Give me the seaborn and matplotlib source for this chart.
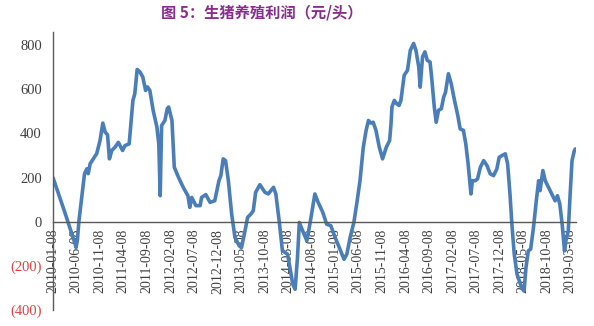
import numpy as np
import pandas as pd
import matplotlib
matplotlib.use("Agg")
import matplotlib.pyplot as plt
import seaborn as sns

# ---- data ----
# time of each observation, in months after 2010-01-08
months_since_start = [
    0, 2.4, 4.7, 4.9, 5.2, 5.5, 6.7, 7.2, 7.5, 7.9, 8.6, 9.3, 10.0, 10.6, 11.1, 11.6,
    12.0, 12.5, 13.2, 13.9, 14.8, 15.3, 16.2, 17.0, 17.4, 17.9, 18.5, 19.1, 19.4, 19.7,
    20.1, 20.6, 21.3, 22.1, 22.5, 22.8, 23.1, 23.8, 24.3, 24.6, 25.3, 25.8, 26.7, 27.7,
    28.7, 29.1, 29.5, 30.4, 31.3, 31.6, 32.5, 33.4, 34.4, 35.3, 35.7, 36.2, 36.7, 37.3,
    38.0, 38.7, 39.6, 40.1, 40.7, 41.4, 42.1, 42.6, 43.1, 44.0, 45.1, 45.8, 46.9, 47.4,
    48.1, 48.8, 49.9, 50.4, 51.0, 51.5, 52.0, 52.4, 53.1, 54.0, 54.7, 55.7, 56.4, 57.4,
    58.2, 59.1, 60.0, 60.9, 61.9, 62.5, 63.2, 64.0, 64.7, 65.3, 66.0, 66.6, 67.1, 67.6,
    68.1, 68.7, 69.4, 70.1, 70.9, 71.6, 71.9, 72.1, 72.6, 73.1, 73.6, 74.0, 74.7, 75.4,
    76.0, 76.7, 77.2, 77.8, 78.1, 78.6, 79.1, 79.6, 80.2, 80.6, 81.1, 81.5, 82.0, 82.6,
    83.1, 83.5, 84.1, 84.7, 85.4, 86.1, 86.6, 87.3, 87.8, 88.3, 88.9, 89.2, 89.8, 90.3,
    90.9, 91.6, 92.3, 93.0, 93.7, 94.4, 94.9, 95.5, 96.2, 96.7, 97.2, 97.6, 98.1, 98.7,
    99.2, 99.7, 100.2, 100.6, 101.1, 101.6, 102.2, 102.8, 103.3, 103.6, 104.2, 104.7,
    105.4, 106.1, 106.8, 107.3, 107.8, 108.3, 108.8, 109.1, 109.6, 110.0, 110.4, 110.9,
    111.1,
]
profit = [
    200, 50, -100, -117, -80, 0, 217, 240, 218, 263, 286, 309, 368, 447, 406, 394,
    285, 323, 338, 360, 323, 345, 353, 550, 580, 690, 679, 656, 626, 595,
    611, 595, 505, 429, 353, 118, 436, 459, 512, 520, 459, 247, 201, 156,
    118, 65, 110, 73, 73, 110, 123, 88, 95, 186, 209, 285, 277, 186,
    35, -71, -109, -117, -56, 20, 35, 50, 133, 168, 133, 126, 156, 126,
    5, -132, -147, -208, -283, -306, -162, -3, -41, -86, -3, 126, 88, 42,
    -11, -18, -71, -117, -170, -147, -71, -3, 95, 186, 338, 414, 459, 447,
    451, 414, 338, 285, 338, 368, 444, 520, 550, 535, 527, 550, 664, 686,
    777, 808, 777, 701, 610, 747, 770, 732, 724, 641, 520, 451, 505, 512,
    565, 588, 671, 626, 550, 482, 421, 414, 353, 262, 126, 186, 186, 194,
    247, 277, 255, 217, 209, 239, 292, 300, 308, 262, 126, -9, -145, -238,
    -268, -299, -314, -208, -132, -124, -26, 95, 186, 141, 232, 186,
    156, 126, 95, 118, 80, -11, -132, -86, -41, 126, 277, 323,
    330,
]
tick_labels = [
    "2010-01-08", "2010-06-08", "2010-11-08", "2011-04-08", "2011-09-08", "2012-02-08",
    "2012-07-08", "2012-12-08", "2013-05-08", "2013-10-08", "2014-03-08", "2014-08-08",
    "2015-01-08", "2015-06-08", "2015-11-08", "2016-04-08", "2016-09-08", "2017-02-08",
    "2017-07-08", "2017-12-08", "2018-05-08", "2018-10-08", "2019-03-08",
]
y_ticks = [-400, -200, 0, 200, 400, 600, 800]
y_tick_labels = ["(400)", "(200)", "0", "200", "400", "600", "800"]
title = "图 5：生猪养殖利润（元/头）"

# ---- build frame ----
start = pd.Timestamp(tick_labels[0])
dates = start + pd.to_timedelta(np.array(months_since_start) * 30.4375, unit="D")
df = pd.DataFrame({"date": dates, "profit": profit})

sns.set_style("white")
plt.rcParams["font.family"] = ["Liberation Serif", "DejaVu Serif"]

fig = plt.figure(figsize=(5.94, 3.26), dpi=100)
ax = fig.add_axes([53 / 594, 1 - 310 / 326, (576 - 53) / 594, (310 - 32) / 326])

sns.lineplot(data=df, x="date", y="profit", ax=ax, color="#4a7ebb", linewidth=2.6)

ax.set_ylim(-400, 860)
ax.set_xlim(start, pd.Timestamp(tick_labels[-1]) + pd.Timedelta(days=40))

ax.set_xticks(pd.to_datetime(tick_labels))
ax.set_xticklabels(tick_labels)
ax.set_yticks(y_ticks)
ax.set_yticklabels(y_tick_labels)

ax.set_xlabel("")
ax.set_ylabel("")

for s in ["top", "right"]:
    ax.spines[s].set_visible(False)
ax.spines["bottom"].set_position(("data", 0))
ax.spines["bottom"].set_color("#595959")
ax.spines["left"].set_color("#595959")
ax.spines["bottom"].set_linewidth(1.0)
ax.spines["left"].set_linewidth(1.0)

ax.tick_params(axis="x", direction="inout", length=6, width=1, color="#595959",
               pad=2, labelrotation=90, labelsize=10, labelcolor="#404040")
ax.tick_params(axis="y", direction="out", length=4, width=1, color="#595959",
               pad=4, labelsize=10.5)
fig.canvas.draw()
for lbl, v in zip(ax.get_yticklabels(), y_ticks):
    lbl.set_color("#e0443c" if v < 0 else "#404040")

fig.text(262 / 594, 1 - 12 / 326, title, ha="center", va="center",
         fontsize=11, fontweight="bold", color="#8a2b8e",
         family=["Noto Sans CJK SC", "DejaVu Sans"])

fig.savefig("out.png", dpi=100)
